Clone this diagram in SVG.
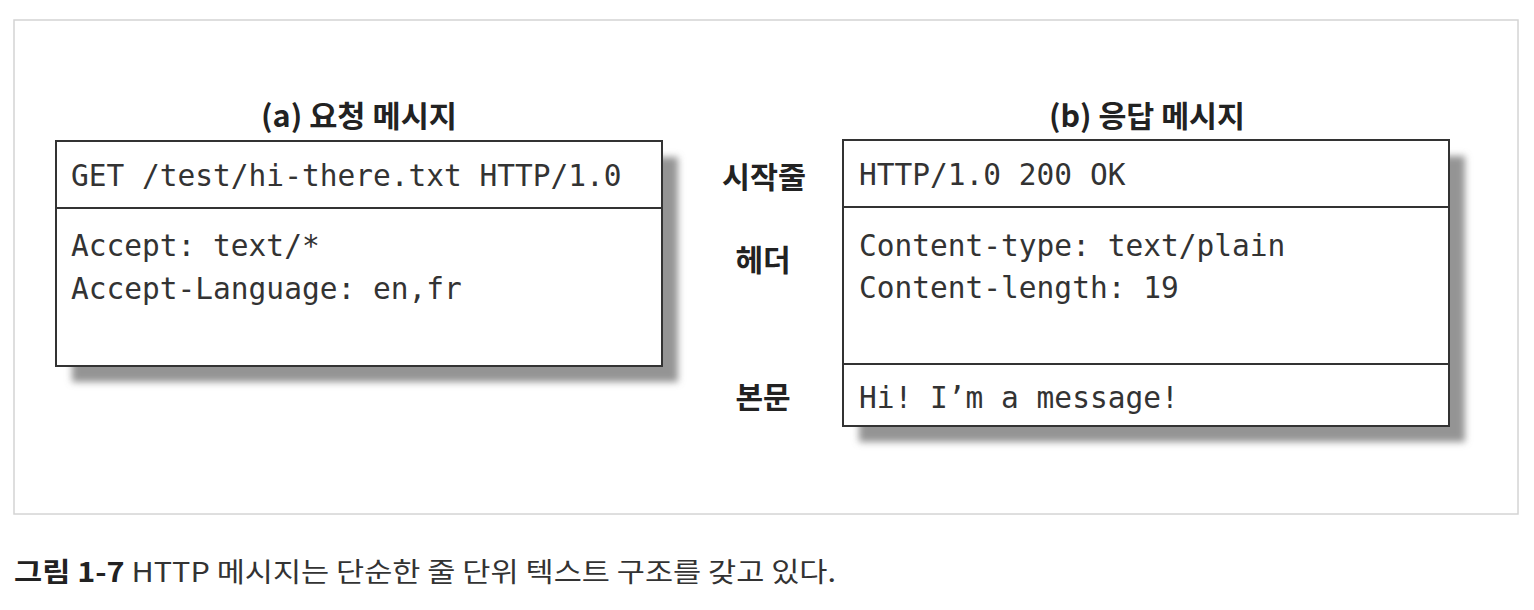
<svg xmlns="http://www.w3.org/2000/svg" width="1534" height="610" viewBox="0 0 1534 610">
<defs>
<filter id="blur" x="-10%" y="-10%" width="120%" height="120%"><feGaussianBlur stdDeviation="3.5"/></filter>
</defs>
<style>
.frame{fill:#fff;stroke:#d4d4d4;stroke-width:1.5}
.box{fill:#fff;stroke:#333;stroke-width:2}
.div{stroke:#333;stroke-width:2}
.shadow{fill:#949494;filter:url(#blur)}
.mono{font-family:"DejaVu Sans Mono","Liberation Mono",monospace;font-size:29.5px;fill:#333}
.title{font-family:"Noto Sans CJK KR",sans-serif;font-size:30px;font-weight:bold;fill:#222;text-anchor:middle}
.lbl{font-family:"Noto Sans CJK KR",sans-serif;font-size:30px;font-weight:bold;fill:#222;text-anchor:middle}
.cap{font-family:"Noto Sans CJK KR",sans-serif;font-size:27px;fill:#333}
</style>
<rect width="1534" height="610" fill="#fff"/>
<rect class="frame" x="14" y="20" width="1504" height="494"/>
<g id="request">
<text class="title" x="359" y="127" textLength="196" lengthAdjust="spacingAndGlyphs">(a) 요청 메시지</text>
<rect class="shadow" x="72" y="157" width="606" height="225"/>
<rect class="box" x="56" y="141" width="606" height="225"/>
<line class="div" x1="56" y1="208" x2="662" y2="208"/>
<text class="mono" x="71" y="186">GET /test/hi-there.txt HTTP/1.0</text>
<text class="mono" x="71" y="256">Accept: text/*</text>
<text class="mono" x="71" y="299">Accept-Language: en,fr</text>
</g>
<g id="response">
<text class="title" x="1147" y="127" textLength="196" lengthAdjust="spacingAndGlyphs">(b) 응답 메시지</text>
<rect class="shadow" x="859" y="156" width="606" height="286"/>
<rect class="box" x="843" y="140" width="606" height="286"/>
<line class="div" x1="843" y1="207" x2="1449" y2="207"/>
<line class="div" x1="843" y1="364" x2="1449" y2="364"/>
<text class="mono" x="859" y="185">HTTP/1.0 200 OK</text>
<text class="mono" x="859" y="256">Content-type: text/plain</text>
<text class="mono" x="859" y="298">Content-length: 19</text>
<text class="mono" x="859" y="408">Hi! I’m a message!</text>
</g>
<g id="labels">
<text class="lbl" x="764" y="188" textLength="84" lengthAdjust="spacingAndGlyphs">시작줄</text>
<text class="lbl" x="763" y="271">헤더</text>
<text class="lbl" x="763" y="408">본문</text>
</g>
<g id="connectors"></g>
<text class="cap" x="14" y="582" textLength="822" lengthAdjust="spacingAndGlyphs"><tspan font-weight="bold" fill="#222">그림 1-7</tspan> HTTP 메시지는 단순한 줄 단위 텍스트 구조를 갖고 있다.</text>
</svg>
